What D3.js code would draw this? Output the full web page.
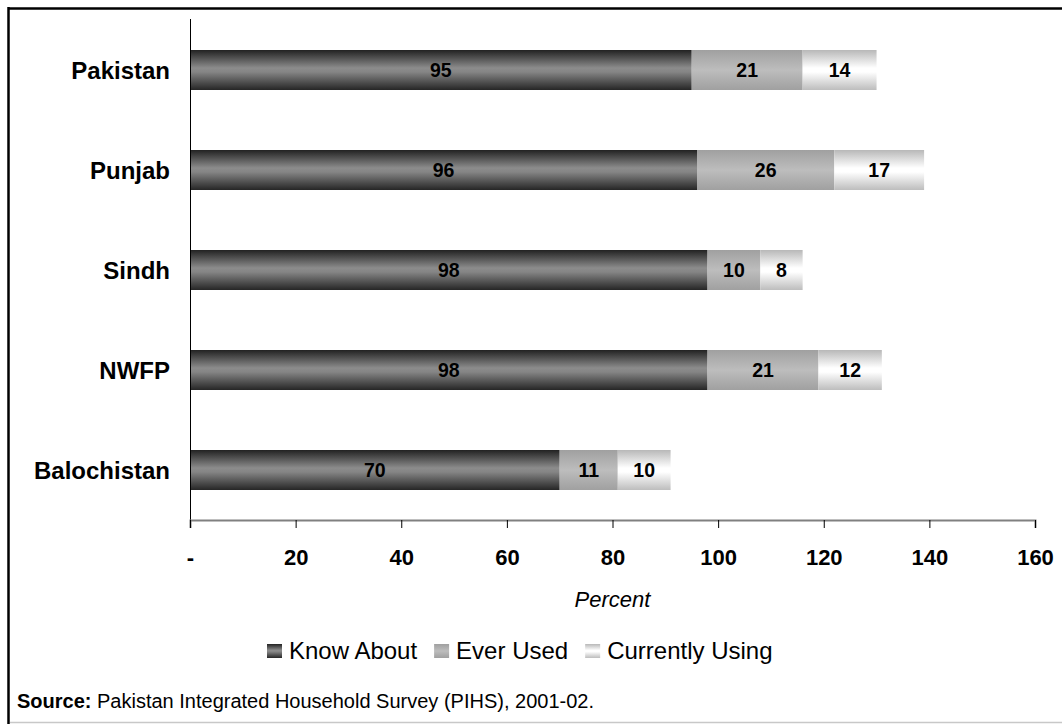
<!DOCTYPE html>
<html>
<head>
<meta charset="utf-8">
<script src="https://cdn.jsdelivr.net/npm/d3@7"></script>
<style>
  html, body { margin: 0; padding: 0; background: #fff; }
  svg { display: block; font-family: "Liberation Sans", Arial, sans-serif; }
</style>
</head>
<body>
<svg id="chart" width="1062" height="724"></svg>
<script>
// Contraceptive awareness and use by province
const regions = ["Pakistan", "Punjab", "Sindh", "NWFP", "Balochistan"];
const knowAbout = [95, 96, 98, 98, 70];
const everUsed = [21, 26, 10, 21, 11];
const currentlyUsing = [14, 17, 8, 12, 10];
const seriesNames = ["Know About", "Ever Used", "Currently Using"];
const xTicks = [0, 20, 40, 60, 80, 100, 120, 140, 160];
const xTickLabels = ["-", "20", "40", "60", "80", "100", "120", "140", "160"];

const svg = d3.select("#chart");
const W = 1062, H = 724;

// Gradients: each series has a banded, cylinder-like shading
const defs = svg.append("defs");
const gradSpecs = [
  { id: "g0", stops: [["0%", "#222"], ["45%", "#8c8c8c"], ["55%", "#858585"], ["100%", "#262626"]] },
  { id: "g1", stops: [["0%", "#a0a0a0"], ["50%", "#bdbdbd"], ["100%", "#a0a0a0"]] },
  { id: "g2", stops: [["0%", "#b8b8b8"], ["45%", "#ffffff"], ["55%", "#ffffff"], ["100%", "#bdbdbd"]] }
];
gradSpecs.forEach(g => {
  const lg = defs.append("linearGradient").attr("id", g.id)
    .attr("x1", 0).attr("y1", 0).attr("x2", 0).attr("y2", 1);
  g.stops.forEach(s => lg.append("stop").attr("offset", s[0]).attr("stop-color", s[1]));
});

// Frame
svg.append("rect").attr("x", 0).attr("y", 0).attr("width", W).attr("height", H).attr("fill", "#fff");
svg.append("line").attr("x1", 8).attr("x2", W).attr("y1", 8.5).attr("y2", 8.5)
  .attr("stroke", "#000").attr("stroke-width", 2.5);
svg.append("line").attr("x1", 8.5).attr("x2", 8.5).attr("y1", 7).attr("y2", H)
  .attr("stroke", "#000").attr("stroke-width", 2.5);
svg.append("line").attr("x1", 10).attr("x2", W).attr("y1", 722.5).attr("y2", 722.5)
  .attr("stroke", "#c8c8c8").attr("stroke-width", 1.5);

const x = d3.scaleLinear().domain([0, 160]).range([190, 1035]);
const y = d3.scaleBand().domain(regions).range([20, 520]).paddingInner(0.6).paddingOuter(0.3);

const rows = regions.map((r, i) => {
  const vals = [knowAbout[i], everUsed[i], currentlyUsing[i]];
  let acc = 0;
  return { region: r, segs: vals.map((v, k) => { const s = { k, v, x0: acc, x1: acc + v }; acc += v; return s; }) };
});

// Bars with value labels
const g = svg.append("g");
rows.forEach(row => {
  const rg = g.append("g");
  rg.selectAll("rect").data(row.segs).join("rect")
    .attr("x", d => x(d.x0))
    .attr("y", y(row.region))
    .attr("width", d => x(d.x1) - x(d.x0))
    .attr("height", y.bandwidth())
    .attr("fill", d => `url(#g${d.k})`);
  rg.selectAll("text").data(row.segs).join("text")
    .attr("x", d => (x(d.x0) + x(d.x1)) / 2)
    .attr("y", y(row.region) + y.bandwidth() / 2 + 7)
    .attr("text-anchor", "middle")
    .attr("font-size", 19.5)
    .attr("font-weight", "bold")
    .attr("fill", "#000")
    .text(d => d.v);
});

// Y axis line and category labels
svg.append("line").attr("x1", 190.5).attr("x2", 190.5).attr("y1", 19).attr("y2", 520)
  .attr("stroke", "#000").attr("stroke-width", 1);
svg.append("g").selectAll("text").data(regions).join("text")
  .attr("x", 170)
  .attr("y", d => y(d) + y.bandwidth() / 2 + 8.5)
  .attr("text-anchor", "end")
  .attr("font-size", 24)
  .attr("font-weight", "bold")
  .text(d => d);

// X axis
const xAxis = d3.axisBottom(x).tickValues(xTicks).tickSize(8)
  .tickFormat((d, i) => xTickLabels[i]);
const ax = svg.append("g").attr("transform", "translate(0,520)").call(xAxis);
ax.select(".domain").attr("stroke", "#808080").attr("stroke-width", 2);
ax.selectAll(".tick line").attr("stroke", "#000").attr("stroke-width", 1);
ax.selectAll(".tick text")
  .attr("y", 29).attr("dy", "0.71em")
  .attr("font-size", 22).attr("font-weight", "bold")
  .attr("font-family", "'Liberation Sans', Arial, sans-serif").attr("fill", "#000");

// Axis title
svg.append("text").attr("x", (x(0) + x(160)) / 2).attr("y", 607)
  .attr("text-anchor", "middle").attr("font-size", 22).attr("font-style", "italic")
  .text("Percent");

// Legend
const legend = svg.append("g");
let lx = 267;
seriesNames.forEach((name, k) => {
  legend.append("rect").attr("x", lx).attr("y", 644).attr("width", 15).attr("height", 14)
    .attr("fill", `url(#g${k})`);
  const t = legend.append("text").attr("x", lx + 22).attr("y", 659)
    .attr("font-size", 24).text(name);
  lx += 22 + t.node().getComputedTextLength() + 17;
});

// Source note
const src = svg.append("text").attr("x", 17).attr("y", 708).attr("font-size", 20);
src.append("tspan").attr("font-weight", "bold").text("Source:");
src.append("tspan").text(" Pakistan Integrated Household Survey (PIHS), 2001-02.");
</script>
</body>
</html>
